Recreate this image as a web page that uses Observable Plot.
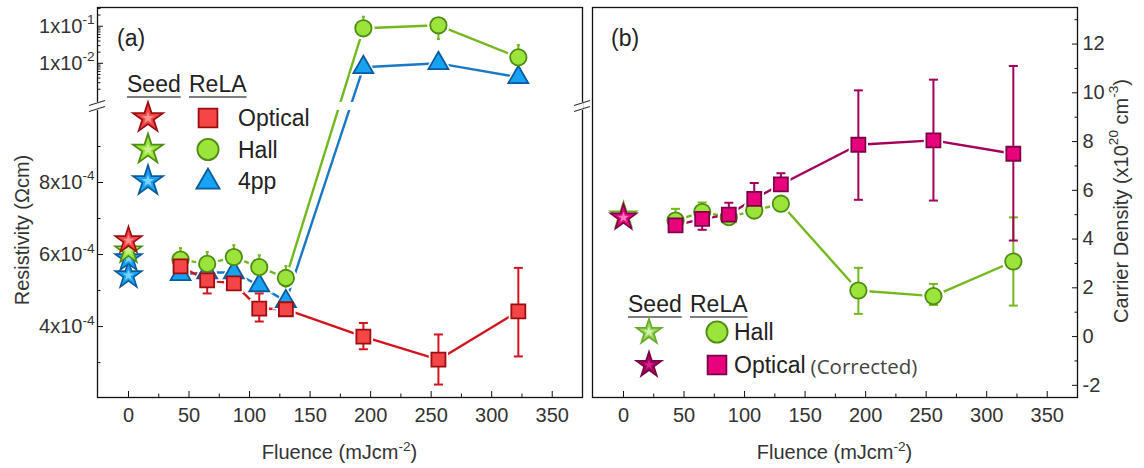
<!DOCTYPE html>
<html>
<head>
<meta charset="utf-8">
<script src="https://cdn.jsdelivr.net/npm/d3@7"></script>
<script src="https://cdn.jsdelivr.net/npm/@observablehq/plot@0.6"></script>
<style>
  body { margin: 0; background: #fff; }
  #wrap { position: relative; width: 1144px; height: 468px; overflow: hidden; }
  #wrap > svg { position: absolute; top: 0; }
</style>
</head>
<body>
<div id="wrap"></div>
<script>
// ---------- data ----------
const fluence = [43, 65, 87, 108, 130, 194, 256, 322];   // mJ/cm², ReLA samples

// (a) resistivity (Ω·cm) after ReLA
const resOptical   = [5.67e-4, 5.28e-4, 5.20e-4, 4.50e-4, 4.48e-4, 3.72e-4, 3.08e-4, 4.42e-4];
const resOpticalLo = [5.55e-4, 4.92e-4, 5.10e-4, 4.14e-4, 4.38e-4, 3.37e-4, 2.39e-4, 3.17e-4];
const resOpticalHi = [5.80e-4, 5.40e-4, 5.30e-4, 4.92e-4, 4.58e-4, 4.10e-4, 3.78e-4, 5.63e-4];
const resHall   = [5.86e-4, 5.74e-4, 5.93e-4, 5.65e-4, 5.35e-4, 0.088, 0.106, 0.0145];
const resHallLo = [5.60e-4, 5.50e-4, 5.65e-4, 5.40e-4, 5.10e-4, 0.065, 0.045, 0.0090];
const resHallHi = [6.18e-4, 6.07e-4, 6.26e-4, 5.98e-4, 5.68e-4, 0.18, 0.125, 0.031];
const res4pp    = [5.45e-4, 5.50e-4, 5.50e-4, 5.14e-4, 4.70e-4, 0.0078, 0.0100, 0.0042];

// (a) seed layer resistivity at zero fluence
const seedResMethod = ["4pp", "4pp", "Hall", "Optical"];
const seedRes       = [5.42e-4, 5.89e-4, 6.11e-4, 6.39e-4];

// (b) carrier density (×10²⁰ cm⁻³)
const densHall     = [4.76, 5.11, 4.90, 5.17, 5.45, 1.89, 1.66, 3.08];
const densHallLo   = [4.50, 4.85, 4.62, 4.92, 5.20, 0.93, 1.30, 1.27];
const densHallHi   = [5.24, 5.50, 5.20, 5.45, 5.70, 2.82, 2.16, 4.89];
const densOptical   = [4.56, 4.83, 5.00, 5.65, 6.24, 7.87, 8.05, 7.50];
const densOpticalLo = [4.30, 4.38, 4.80, 5.40, 6.00, 5.61, 5.58, 3.94];
const densOpticalHi = [4.80, 5.10, 5.49, 6.30, 6.70, 10.10, 10.54, 11.10];

// (b) seed layer carrier density
const seedDensMethod = ["Hall", "Optical"];
const seedDens       = [4.97, 4.88];

// tick values
const xTicks = [0, 50, 100, 150, 200, 250, 300, 350];
const xMinorTicks = [25, 75, 125, 175, 225, 275, 325, 375];
const resTicks = [4e-4, 6e-4, 8e-4, 1e-2, 1e-1];
const resTickLabels = ["4x10^-4", "6x10^-4", "8x10^-4", "1x10^-2", "1x10^-1"];
const resMinorTicks = [3e-4, 5e-4, 7e-4, 9e-4,
  2e-3, 3e-3, 4e-3, 5e-3, 6e-3, 7e-3, 8e-3, 9e-3,
  2e-2, 3e-2, 4e-2, 5e-2, 6e-2, 7e-2, 8e-2, 9e-2, 2e-1, 3e-1];
const densTicks = [-2, 0, 2, 4, 6, 8, 10, 12];
const densMinorTicks = [-1, 1, 3, 5, 7, 9, 11, 13];

// ---------- styles ----------
const C = {
  Optical: {fill: "#f44646", stroke: "#9c0c10", line: "#d3141f", inner: "#ff9090"},
  Hall:    {fill: "#9be43c", stroke: "#4f8c12", line: "#74b81f", inner: "#c8f08c"},
  "4pp":   {fill: "#17a2f2", stroke: "#0b5b9c", line: "#1a78c6", inner: "#7fd0ff"},
  Magenta: {fill: "#e8037c", stroke: "#7e0048", line: "#a3005c", inner: "#ff7cbf"},
  HallSeedB: {fill: "#9bd95a", stroke: "#6aac2c", inner: "#d2f3ad"}
};
const FONT = "'Liberation Sans', Arial, Helvetica, sans-serif";
const TICK_FONT = 20;
const GAP = 3;              // white gap between a line and its markers

// broken resistivity axis: linear below 1e-3, log above
const BREAK_GAP = 0.28;     // size of the break, in units of 1e-4
const DECADE = 1.03;        // length of one decade, in units of 1e-4
const resPos = v => v <= 1e-3 ? v * 1e4 : 10 + BREAK_GAP + (Math.log10(v) + 3) * DECADE;

// horizontal cap for error bars
const capSymbol = {draw(ctx, size) { const w = Math.sqrt(size / Math.PI); ctx.moveTo(-w, 0); ctx.lineTo(w, 0); }};

const rows = (ys, lo, hi) => fluence.map((x, i) => ({x, y: ys[i], lo: lo ? lo[i] : null, hi: hi ? hi[i] : null}));

function errorMarks(data, color, cap = 4.5) {
  const d = data.filter(r => r.lo != null);
  return [
    Plot.ruleX(d, {x: "x", y1: "lo", y2: "hi", stroke: color, strokeWidth: 2}),
    Plot.dot(d, {x: "x", y: "lo", symbol: capSymbol, r: cap, stroke: color, strokeWidth: 2, fill: "none"}),
    Plot.dot(d, {x: "x", y: "hi", symbol: capSymbol, r: cap, stroke: color, strokeWidth: 2, fill: "none"})
  ];
}
const lineMark = (data, color) => Plot.line(data, {x: "x", y: "y", stroke: color, strokeWidth: 2.4});
const haloMark = (data, symbol, r) => Plot.dot(data, {x: "x", y: "y", symbol, r: r + GAP, fill: "white", stroke: "none"});
const markerMark = (data, symbol, r, c) => Plot.dot(data, {x: "x", y: "y", symbol, r, fill: c.fill, stroke: c.stroke, strokeWidth: 1.8});

function seedStars(values, methods, palette, r) {
  const data = values.map((y, i) => ({x: 0, y, m: methods[i]}));
  return data.flatMap(d => [
    Plot.dot([d], {x: "x", y: "y", symbol: "star", r, fill: palette[d.m].fill, stroke: palette[d.m].stroke, strokeWidth: 1.6}),
    Plot.dot([d], {x: "x", y: "y", symbol: "star", r: r * 0.42, fill: palette[d.m].inner, stroke: "none"})
  ]);
}

// superscripts written as "base^sup" in tick labels
function applySuperscripts(svg) {
  svg.querySelectorAll("text").forEach(t => {
    const s = t.textContent;
    if (!s.includes("^")) return;
    const [base, sup] = s.split("^");
    t.textContent = base;
    const ts = document.createElementNS("http://www.w3.org/2000/svg", "tspan");
    ts.setAttribute("font-size", "0.68em");
    ts.setAttribute("dy", "-0.62em");
    ts.textContent = sup;
    t.appendChild(ts);
  });
}

const commonStyle = {fontFamily: FONT, fontSize: TICK_FONT + "px", color: "#333", background: "transparent", overflow: "visible"};
const xDomain = [-25.6, 375];
const axisOpts = {label: null, stroke: "#111", fontSize: TICK_FONT};

// ---------- panel (a) ----------
const optA = rows(resOptical, resOpticalLo, resOpticalHi);
const hallA = rows(resHall, resHallLo, resHallHi);
const fppA = rows(res4pp);

const plotA = Plot.plot({
  width: 590, height: 468,
  marginLeft: 97, marginRight: 8, marginTop: 7, marginBottom: 71,
  style: commonStyle,
  x: {domain: xDomain},
  y: {domain: [2.03, 12.86], transform: resPos},
  marks: [
    Plot.frame({stroke: "#111", strokeWidth: 1.3}),
    lineMark(fppA, C["4pp"].line),
    lineMark(hallA, C.Hall.line),
    lineMark(optA, C.Optical.line),
    haloMark(fppA, "triangle", 7.4),
    haloMark(hallA, "circle", 8.2),
    haloMark(optA, "square", 7.9),
    ...errorMarks(hallA, C.Hall.line, 1.5),
    ...errorMarks(optA, C.Optical.line),
    markerMark(fppA, "triangle", 7.4, C["4pp"]),
    markerMark(hallA, "circle", 8.2, C.Hall),
    markerMark(optA, "square", 7.9, C.Optical),
    ...seedStars(seedRes, seedResMethod, C, 8.4),
    Plot.axisX(xTicks, {...axisOpts, anchor: "bottom", tickSize: -6, tickPadding: 16}),
    Plot.axisX(xMinorTicks, {...axisOpts, anchor: "bottom", tickSize: -3.5, tickFormat: () => ""}),
    Plot.axisY(resTicks, {...axisOpts, anchor: "left", tickSize: -6, tickPadding: 9,
      tickFormat: v => resTickLabels[resTicks.indexOf(v)]}),
    Plot.axisY(resMinorTicks, {...axisOpts, anchor: "left", tickSize: -3.5, tickFormat: () => ""})
  ]
});
plotA.style.left = "0px";
applySuperscripts(plotA);

// ---------- panel (b) ----------
const optB = rows(densOptical, densOpticalLo, densOpticalHi);
const hallB = rows(densHall, densHallLo, densHallHi);
const paletteB = {Hall: C.HallSeedB, Optical: C.Magenta};

const plotB = Plot.plot({
  width: 554, height: 468,
  marginLeft: 2, marginRight: 67, marginTop: 7, marginBottom: 71,
  style: commonStyle,
  x: {domain: xDomain},
  y: {domain: [-2.5, 13.5]},
  marks: [
    Plot.frame({stroke: "#111", strokeWidth: 1.3}),
    lineMark(hallB, C.Hall.line),
    lineMark(optB, C.Magenta.line),
    haloMark(hallB, "circle", 8.2),
    haloMark(optB, "square", 7.9),
    ...errorMarks(hallB, C.Hall.line),
    ...errorMarks(optB, C.Magenta.line),
    markerMark(hallB, "circle", 8.2, C.Hall),
    markerMark(optB, "square", 7.9, C.Magenta),
    ...seedStars(seedDens, seedDensMethod, paletteB, 8.2),
    Plot.axisX(xTicks, {...axisOpts, anchor: "bottom", tickSize: -6, tickPadding: 16}),
    Plot.axisX(xMinorTicks, {...axisOpts, anchor: "bottom", tickSize: -3.5, tickFormat: () => ""}),
    Plot.axisY(densTicks, {...axisOpts, anchor: "right", tickSize: -6, tickPadding: 11,
      tickFormat: d => String(d)}),
    Plot.axisY(densMinorTicks, {...axisOpts, anchor: "right", tickSize: -3.5, tickFormat: () => ""})
  ]
});
plotB.style.left = "590px";

const wrap = document.getElementById("wrap");
wrap.appendChild(plotA);
wrap.appendChild(plotB);

// ---------- overlay: break marks, panel tags, titles, legends ----------
const overlay = d3.select(wrap).append("svg")
  .attr("width", 1144).attr("height", 468)
  .style("left", "0px").style("pointer-events", "none")
  .attr("font-family", FONT);

// axis break of panel (a)
const sxA = plotA.scale("x"), syA = plotA.scale("y");
const yPix = d3.scaleLinear(syA.domain, syA.range);
const xPix = d3.scaleLinear(sxA.domain, sxA.range);
const yBreak = yPix(10 + BREAK_GAP / 2) + 1;
const [xl, xr] = [xPix(xDomain[0]), xPix(xDomain[1])];
overlay.append("rect").attr("x", xl - 1).attr("y", yBreak - 4).attr("width", xr - xl + 2).attr("height", 8).attr("fill", "white");
for (const xa of [xl, xr]) {
  for (const dy of [-3, 3]) {
    overlay.append("line")
      .attr("x1", xa - 8).attr("y1", yBreak + dy + 2.5)
      .attr("x2", xa + 8).attr("y2", yBreak + dy - 2.5)
      .attr("stroke", "#333").attr("stroke-width", 1.2);
  }
}

function label(x, y, parts, {size = 20, anchor = "middle", rotate = 0, fill = "#333", family = FONT, baseline = null} = {}) {
  const t = overlay.append("text")
    .attr("transform", `translate(${x},${y}) rotate(${rotate})`)
    .attr("text-anchor", anchor).attr("font-size", size).attr("fill", fill).attr("font-family", family);
  if (baseline) t.attr("dominant-baseline", baseline);
  let up = false;
  for (const [s, sup] of parts) {
    const ts = t.append("tspan").text(s);
    if (sup && !up) { ts.attr("font-size", size * 0.68).attr("dy", -size * 0.42); up = true; }
    else if (!sup && up) { ts.attr("dy", size * 0.42); up = false; }
    else if (sup) ts.attr("font-size", size * 0.68);
  }
  return t;
}

label(117, 46, [["(a)"]], {size: 23, anchor: "start", fill: "#222"});
label(611, 46, [["(b)"]], {size: 23, anchor: "start", fill: "#222"});
label(339.5, 459, [["Fluence (mJcm"], ["-2", true], [")"]]);
label(834.5, 459, [["Fluence (mJcm"], ["-2", true], [")"]]);
label(22, 230, [["Resistivity (\u03A9cm)"]], {rotate: -90, baseline: "central"});
label(1121, 201, [["Carrier Density (x10"], ["20", true], [" cm"], ["-3", true], [")"]], {rotate: -90, baseline: "central"});

const sym = (type, r) => d3.symbol(type, Math.PI * r * r)();
function legendSymbol(cx, cy, type, r, c, strokeWidth = 1.8) {
  overlay.append("path").attr("d", sym(type, r)).attr("transform", `translate(${cx},${cy})`)
    .attr("fill", c.fill).attr("stroke", c.stroke).attr("stroke-width", strokeWidth);
  if (type === d3.symbolStar && c.inner)
    overlay.append("path").attr("d", sym(type, r * 0.42)).attr("transform", `translate(${cx},${cy})`).attr("fill", c.inner);
}
function heading(x, y, text) {
  const t = label(x, y, [[text]], {size: 23, anchor: "start", fill: "#222"});
  const w = t.node().getComputedTextLength();
  overlay.append("line").attr("x1", x).attr("x2", x + w).attr("y1", y + 5).attr("y2", y + 5)
    .attr("stroke", "#555").attr("stroke-width", 1.6);
}

// legend (a)
heading(127, 92, "Seed");
heading(189, 92, "ReLA");
const legA = [["Optical", d3.symbolSquare, 10.6], ["Hall", d3.symbolCircle, 10.6], ["4pp", d3.symbolTriangle, 8.6]];
legA.forEach(([name, type, r], i) => {
  const cy = 118 + i * 31.5;
  legendSymbol(148, cy, d3.symbolStar, 9.4, C[name]);
  legendSymbol(208, cy + (type === d3.symbolTriangle ? 1 : 0), type, r, C[name]);
  label(238, cy, [[name]], {size: 23, anchor: "start", fill: "#222", baseline: "central"});
});

// legend (b)
heading(628, 312, "Seed");
heading(690, 312, "ReLA");
legendSymbol(649, 332, d3.symbolStar, 7.8, C.HallSeedB);
legendSymbol(717, 332, d3.symbolCircle, 10.6, C.Hall);
label(734, 332, [["Hall"]], {size: 23, anchor: "start", fill: "#222", baseline: "central"});
legendSymbol(649, 365, d3.symbolStar, 7.8, {fill: "#a8005e", stroke: "#7a0046", inner: "#d6208a"});
legendSymbol(717, 365, d3.symbolSquare, 10.6, C.Magenta);
const optLbl = label(734, 365, [["Optical"]], {size: 23, anchor: "start", fill: "#222", baseline: "central"});
const optW = optLbl.node().getComputedTextLength();
label(734 + optW + 5, 366, [["(Corrected)"]], {size: 20.5, anchor: "start", fill: "#444", family: "'Open Sans', sans-serif", baseline: "central"});
</script>
</body>
</html>
